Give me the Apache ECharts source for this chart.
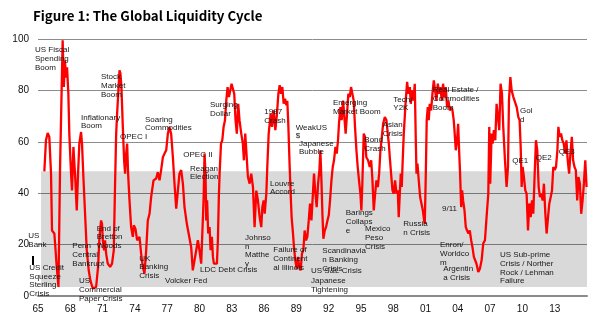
<!DOCTYPE html>
<html><head><meta charset="utf-8">
<script src="https://cdn.jsdelivr.net/npm/echarts@6/dist/echarts.min.js"></script>
<style>html,body{margin:0;padding:0;background:#fff}#c{width:600px;height:322px}</style>
</head><body><div id="c"></div>
<script>
// ---- data ----
const years = [
1965.59,1965.74,1965.90,1966.05,1966.21,1966.30,1966.52,1966.61,1966.74,1966.90,1967.05,1967.29,1967.40,1967.50,1967.60,1967.70,1967.82,1967.91,1968.07,1968.16,1968.29,1968.38,1968.47,1968.60,1968.72,1968.84,1969.00,1969.09,1969.22,1969.40,1969.53,1969.71,1969.87,1970.09,1970.40,1970.58,1970.71,1970.86,1970.95,1971.02,1971.14,1971.23,1971.33,1971.48,1971.70,1971.88,1972.04,1972.16,1972.26,1972.35,1972.47,1972.57,1972.66,1972.75,1972.88,1973.00,1973.09,1973.19,1973.28,1973.37,1973.50,1973.65,1973.81,1973.90,1974.05,1974.21,1974.43,1974.58,1974.74,1974.89,1975.05,
1975.20,1975.36,1975.51,1975.73,1975.98,1976.13,1976.29,1976.44,1976.60,1976.75,1976.91,1977.06,1977.20,1977.37,1977.53,1977.68,1977.84,1977.99,1978.14,1978.30,1978.46,1978.61,1978.83,1979.00,1979.23,1979.38,1979.54,1979.70,1979.85,1980.00,1980.16,1980.32,1980.38,1980.47,1980.56,1980.63,1980.71,1980.81,1980.94,1981.03,1981.15,1981.25,1981.34,1981.50,1981.62,1981.71,1981.80,1981.87,1982.00,1982.12,1982.24,1982.37,1982.49,1982.61,1982.74,1982.86,1982.98,1983.11,1983.23,1983.35,1983.47,1983.60,1983.72,1983.88,1984.03,1984.13,1984.25,1984.35,1984.50,1984.66,1984.81,1984.97,1985.12,1985.28,
1985.43,1985.59,1985.74,1985.84,1985.96,1986.06,1986.21,1986.30,1986.43,1986.52,1986.61,1986.74,1986.89,1987.05,1987.20,1987.33,1987.45,1987.57,1987.70,1987.82,1987.95,1988.07,1988.16,1988.26,1988.38,1988.47,1988.56,1988.69,1988.78,1988.90,1989.03,1989.15,1989.27,1989.40,1989.52,1989.65,1989.77,1989.90,1990.02,1990.15,1990.27,1990.40,1990.52,1990.64,1990.77,1990.89,1991.02,1991.14,1991.23,1991.33,1991.42,1991.51,1991.64,1991.76,1991.89,1992.01,1992.13,1992.26,1992.38,1992.50,1992.63,1992.75,1992.87,1992.96,1993.09,1993.21,1993.34,1993.46,1993.58,1993.71,1993.83,1993.96,1994.08,1994.21,1994.33,1994.45,1994.58,1994.70,1994.82,1994.95,1995.04,1995.13,1995.26,1995.38,1995.50,
1995.66,1995.82,1995.95,1996.07,1996.19,1996.32,1996.44,1996.57,1996.69,1996.81,1996.94,1997.06,1997.22,1997.37,1997.49,1997.59,1997.68,1997.80,1997.93,1998.05,1998.17,1998.30,1998.42,1998.51,1998.61,1998.70,1998.79,1998.88,1998.98,1999.07,1999.16,1999.29,1999.41,1999.54,1999.63,1999.76,1999.88,2000.00,2000.09,2000.16,2000.25,2000.37,2000.50,2000.62,2000.75,2000.87,2000.93,2001.02,2001.11,2001.21,2001.30,2001.39,2001.52,2001.64,2001.77,2001.89,2002.01,2002.14,2002.26,2002.38,2002.51,2002.63,2002.76,2002.88,2003.00,2003.13,2003.25,2003.38,2003.50,2003.62,2003.71,2003.81,2003.93,2004.03,2004.12,2004.21,2004.31,2004.40,2004.49,2004.62,2004.74,2004.86,2004.99,2005.11,2005.24,2005.36,2005.49,2005.61,2005.73,
2005.90,2006.05,2006.21,2006.36,2006.52,2006.67,2006.83,2006.92,2007.01,2007.14,2007.23,2007.35,2007.48,2007.60,2007.73,2007.85,2007.97,2008.10,2008.22,2008.38,2008.53,2008.66,2008.75,2008.88,2009.00,2009.16,2009.31,2009.47,2009.62,2009.74,2009.84,2009.93,2010.02,2010.14,2010.27,2010.39,2010.52,2010.64,2010.77,2010.89,2011.01,2011.14,2011.26,2011.38,2011.51,2011.63,2011.75,2011.88,2012.00,2012.13,2012.25,2012.38,2012.50,2012.63,2012.75,2012.87,2013.00,2013.12,2013.25,2013.34,2013.46,2013.59,2013.71,2013.84,2013.96,2014.09,2014.21,2014.34,2014.46,2014.59,2014.71,2014.84,2014.96,2015.09,2015.21,2015.34,2015.46,2015.59,2015.71,2015.84,2015.96
];
const liquidity = [
48.5,60.6,63.4,61.9,47.6,25.5,24.3,19.0,11.3,3.5,50,99.5,81.3,91.7,85,89,78.7,63,47.6,41.1,58,58,45,33.3,47.6,59.3,63.8,59,46,29.4,17.8,10,6,2.9,3.5,11.3,23,29.4,28,21.7,17.8,21.7,16.5,12.6,11.3,12.6,17.8,43.7,63,71,80,87.8,86.5,81.3,65.8,52.8,47.6,55.4,59.3,47.6,37.2,26.8,23,27.5,26.2,21.7,23,16.5,11.3,8.7,17.8,
29.4,32,38.5,45,45.7,48.2,45,49,54,55.4,56.7,63,65.8,63,54,43.7,34,34.6,47.6,49,43.7,34.6,28,27.5,19,10,9.3,17.8,21.7,17.8,12.6,12.6,37.2,55.4,47.6,29.4,37.2,24.3,26.8,17.8,23,15.2,12.6,11.9,12.6,21.7,38.5,47.6,59.3,60.6,65.8,68.4,76,81.3,77.4,80,82.6,82,78.7,68.4,63.2,74.8,68.4,63.2,59.3,52.8,63.2,56.7,46.3,43.7,47.6,42.4,26.8,41,
37.2,30.7,26.8,34.6,37.2,32,39.8,50.2,63.2,67,71,65.8,72.2,64.5,71,78.7,82,78.7,81.3,74.8,76.8,74.2,76,65.8,50.2,39.8,30.7,24.3,19,13.9,10.6,15.2,11.3,10,16.5,17.8,25.5,21.7,23,29.4,36,29.4,38.5,47.6,39.8,34.6,43.7,48.9,56.7,45,32,22.3,25.5,26.8,29.4,31.4,37.2,45,50.2,52.8,58,55.4,60.6,67,73.5,68.4,76,69.6,63.2,71,78.7,77.4,81.3,82,76,65.8,56.7,50.2,45,39.8,33.3,43.7,63.2,61.9,54,
52.8,50.2,52.8,45,33.3,39.8,45,42.4,47.6,56.7,61.9,67,69.6,68.4,63.2,59.3,54,47.6,41.1,39.8,45,39.8,41.1,30.7,39.8,47.6,42.4,52.8,63.2,69.6,76,83.3,78.7,81.3,74.8,80,76,82.6,61.9,47.6,51.5,45,38.5,36,33.3,29.4,28,46.3,68.4,73.5,68.4,74.8,72.2,78.7,83.9,83.3,76,82.6,78.7,81.3,76,82.6,77.4,81.3,73.5,76,72.2,73.5,72.2,68.4,63.2,56.7,60.6,67,56.7,47.6,34.6,41.1,37.2,33.3,26.8,25.5,24.3,25.5,21.7,19,15.2,13.9,12.6,
9.3,10.6,13.9,20.4,21.7,30.7,39.8,65.8,43.7,63.2,59.3,64.5,60.6,74.8,69.6,64.5,82.6,78.7,65.8,52.8,42.4,50.2,76,85.2,80,77.4,77.4,73.5,69.6,68.4,58,42.4,50.2,46.3,41.1,39.8,25.5,36,30.7,37.2,32,47.6,60.6,56.7,42.4,38.5,39.8,37.2,43.7,32,24.3,30.7,36,38.5,41.1,50.2,49,50.2,56.7,65.8,61.9,63.2,60.6,59.3,55.4,60.6,52.8,47.6,55.4,61.9,52.8,50.2,49,37.2,46.3,43.7,32,37.2,43.7,52.8,42.4
];
const yearMin = 1965, yearMax = 2016, yearStep = 3;
const yTicks = [0, 20, 40, 60, 80, 100];
const neutralBand = [3.5, 48.5];   // shaded zone (value range)
const bandStartYear = 1965.28;
const titleText = 'Figure 1: The Global Liquidity Cycle';
const annotations = [
  ['US Fiscal\nSpending\nBoom', 35, 50],
  ['Stock\nMarket\nBoom', 101, 77],
  ['Inflationary\nBoom', 81, 117.3],
  ['Soaring\nCommodities', 145, 119.3],
  ['OPEC I', 120, 137],
  ['OPEC II', 183.3, 155],
  ['Reagan\nElection', 190, 168.3],
  ['US\nBank', 28.3, 235.7],
  ['US Credit\nSqueeze\nSterling\nCrisis', 29.3, 267.7],
  ['Penn\nCentral\nBankrupt', 72.3, 246],
  ['End of\nBretton\nWoods', 96.7, 228.3],
  ['US\nCommercial\nPaper Crisis', 79, 281],
  ['UK\nBanking\nCrisis', 139.3, 258.3],
  ['Volcker Fed', 165, 280.3],
  ['Surging\nDollar', 210, 104.7],
  ['1987\nCrash', 264.3, 112],
  ['WeakUS\n$', 295.7, 127.3],
  ['Japanese\nBubble', 299, 143.3],
  ['Emerging\nMarket Boom', 333, 103],
  ['Bond\nCrash', 364.3, 139.7],
  ['Louvre\nAccord', 270, 183.3],
  ['Johnso\nn\nMatthe\ny', 245, 237.7],
  ['LDC Debt Crisis', 200, 269.7],
  ['Failure of\nContinent\nal Illinois', 273.3, 250],
  ['Scandinavia\nn Banking\nCrisis', 322.3, 251],
  ['US S&L Crisis', 311, 271],
  ['Japanese\nTightening', 311, 280.7],
  ['Barings\nCollaps\ne', 345.7, 213],
  ['Mexico\nPeso\nCrisis', 365, 229],
  ['Asian\nCrisis', 382.7, 125],
  ['Tech/\nY2K', 393.3, 99.3],
  ['Real Estate /\nCommodities\nBoom', 432.7, 90],
  ['Russia\nn Crisis', 403.3, 223.7],
  ['9/11', 442, 208.3],
  ['Enron/\nWorldco\nm', 440, 245],
  ['Argentin\na Crisis', 443.3, 269],
  ['Gol\nd', 520, 111],
  ['QE1', 512.3, 160.7],
  ['QE2', 535.7, 158],
  ['QE3', 558.7, 152],
  ['US Sub-prime\nCrisis / Norther\nRock / Lehman\nFailure', 500, 255]
];
// ---- chart ----
const LH = 8.7;
const chart = echarts.init(document.getElementById('c'), null, {renderer: 'canvas'});
const graphics = annotations.map(a => ({
  type: 'text', left: a[1], top: a[2] - LH / 2, z: 100,
  style: {text: a[0], fill: '#161616', font: '8px "Liberation Sans", Arial, sans-serif', lineHeight: LH}
}));
graphics.push({type: 'text', left: 33, top: 9, z: 100,
  style: {text: titleText, fill: '#000', font: 'bold 13.3px "Noto Sans CJK KR", sans-serif'}});
graphics.push({type: 'rect', shape: {x: 32, y: 256, width: 2, height: 9}, style: {fill: '#000'}, z: 100});
chart.setOption({
  animation: false,
  grid: {left: 38, right: 13, top: 39, bottom: 26},
  xAxis: {
    type: 'value', min: yearMin, max: yearMax, interval: yearStep,
    axisLine: {show: true, lineStyle: {color: '#8a8a8a', width: 2}},
    axisTick: {show: false}, splitLine: {show: false},
    axisLabel: {margin: 8, color: '#111', fontSize: 10, fontFamily: '"Liberation Sans", Arial',
      formatter: v => v >= yearMax ? '' : String(v % 100).padStart(2, '0')}
  },
  yAxis: {
    type: 'value', min: yTicks[0], max: yTicks[yTicks.length - 1], interval: yTicks[1] - yTicks[0],
    axisLine: {show: false}, axisTick: {show: false},
    splitLine: {lineStyle: {color: '#8c8c8c', width: 1}},
    axisLabel: {margin: 9, color: '#111', fontSize: 10, fontFamily: '"Liberation Sans", Arial'}
  },
  series: [{
    type: 'line', showSymbol: false, symbol: 'none',
    data: years.map((y, i) => [y, liquidity[i]]),
    lineStyle: {color: '#ff0000', width: 2.3}, itemStyle: {color: '#ff0000'},
    markArea: {silent: true, itemStyle: {color: 'rgba(0,0,0,0.15)'},
      data: [[{coord: [bandStartYear, neutralBand[1]]}, {coord: [yearMax, neutralBand[0]]}]]}
  }],
  graphic: graphics
});
</script></body></html>
